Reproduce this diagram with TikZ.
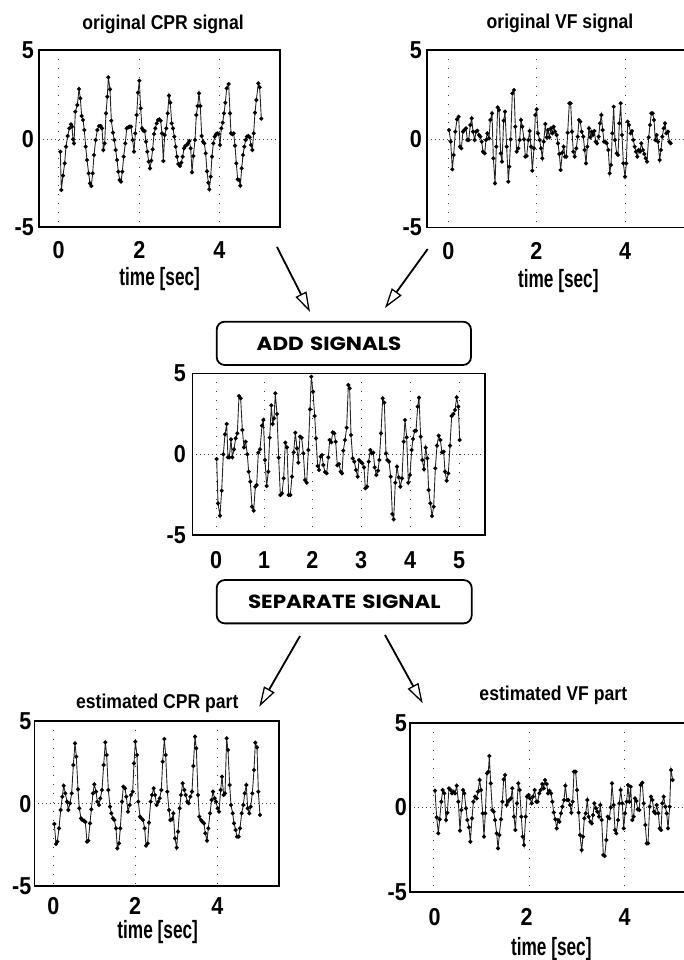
\documentclass[tikz,border=0pt]{standalone}
\usepackage{fontspec}
\setmainfont{Liberation Sans}[FakeStretch=0.88]
\newfontfamily\labelfont{Liberation Sans}[FakeStretch=0.69]
\newfontfamily\boxfont{Poppins}[FakeStretch=1.13]
\usetikzlibrary{arrows.meta}

\begin{document}
\begin{tikzpicture}[x=1pt, y=-1pt,
  frame/.style={line width=1.6pt},
  vgrid/.style={line width=0.7pt, black!75, dash pattern=on 0.8pt off 8.2pt},
  hgrid/.style={line width=0.7pt, black!75, dash pattern=on 0.8pt off 3.2pt},
  sig/.style={line width=0.9pt, black!85, mark=*, mark size=1.6pt, mark options={fill=black, draw=black}},
  ticklab/.style={font=\fontsize{24.5}{24.5}\selectfont\bfseries, inner sep=0pt},
  ylab/.style={ticklab, anchor=east},
  xlab/.style={ticklab, anchor=base},
  axtitle/.style={font=\fontsize{20}{20}\selectfont\bfseries, inner sep=0pt, anchor=base},
  timelab/.style={font=\labelfont\fontsize{25}{25}\selectfont\bfseries, inner sep=0pt, anchor=base},
  procbox/.style={draw, line width=1.8pt, rounded corners=8pt, inner xsep=0pt,
                  text width=#1, align=left, minimum height=43.3pt,
                  font=\boxfont\bfseries\fontsize{19}{19}\selectfont},
  flow/.style={line width=1.8pt, -{Triangle[open, fill=white, length=20pt, width=12pt, line width=1.3pt]}}
]
\useasboundingbox (0,0) rectangle (684,960);
\clip (0,0) rectangle (684,960);

% ---------------- original CPR signal (top left) ----------------
\foreach \gx in {58.7,139.3,219.3} \draw[vgrid] (\gx,50) -- (\gx,227);
\draw[hgrid] (39,139) -- (280,139);
\begin{scope}[shift={(0,0)}, x=1pt/3, y=-1pt/3]
\draw[sig] plot coordinates {
(181,455) (184,570) (189,527) (194,490) (198,440) (203,408) (208,385) (213,373) (216,380) (219,418)
(222,430) (226,335) (232,315) (237,267) (241,295) (245,348) (249,360) (253,390) (257,440) (261,480)
(266,520) (270,550) (274,558) (278,520) (282,465) (287,420) (292,390) (297,378) (302,378) (306,385)
(310,450) (314,430) (318,340) (322,290) (325,232) (330,268) (334,362) (339,398) (343,420) (347,450)
(351,480) (355,515) (359,540) (363,545) (367,515) (371,470) (376,430) (380,385) (385,382) (389,380)
(393,380) (398,420) (402,455) (406,400) (410,345) (414,278) (418,242) (422,325) (426,385) (430,392)
(434,393) (438,425) (442,455) (446,485) (450,505) (454,482) (458,448) (462,402) (466,385) (470,370)
(474,360) (478,358) (482,362) (486,400) (490,483) (494,405) (499,385) (503,340) (507,287) (511,308)
(515,370) (519,385) (523,410) (527,440) (531,470) (535,492) (540,498) (544,488) (548,470) (552,445)
(556,438) (560,435) (564,430) (568,423) (572,445) (576,517) (580,468) (585,420) (589,345) (593,318)
(597,280) (601,318) (605,408) (609,425) (613,430) (617,460) (621,514) (625,548) (628,568) (632,530)
(636,470) (640,430) (644,410) (648,403) (652,400) (656,402) (660,435) (664,385) (668,368) (672,340)
(676,308) (680,265) (686,252) (690,340) (693,400) (697,403) (701,400) (705,437) (709,490) (713,538)
(717,540) (721,557) (725,505) (729,465) (733,440) (737,420) (741,410) (745,408) (749,412) (753,435)
(757,450) (761,400) (765,338) (769,300) (775,250) (779,262) (784,356)};
\end{scope}
\draw[frame] (39,50) rectangle (280,227);
\node[ylab] (tl-y5) at (34,50) {5};
\node[ylab] (tl-y0) at (34,139) {0};
\node[ylab] (tl-ym5) at (34,227) {-5};
\node[xlab] (tl-x0) at (58.7,258.5) {0};
\node[xlab] (tl-x2) at (139.3,258.5) {2};
\node[xlab] (tl-x4) at (219.3,258.5) {4};
\node[axtitle] (tl-title) at (163,29.3) {original CPR signal};
\node[timelab] (tl-time) at (159.7,285.5) {time [sec]};

% ---------------- original VF signal (top right) ----------------
\foreach \gx in {448.3,536.3,625} \draw[vgrid] (\gx,50) -- (\gx,227.3);
\draw[hgrid] (426.7,139) -- (690,139);
\begin{scope}[shift={(380,0)}, x=1pt/3, y=-1pt/3]
\draw[sig] plot coordinates {
(207,390) (212,425) (217,508) (221,465) (226,395) (231,358) (236,350) (240,440) (244,445) (249,395)
(253,390) (258,385) (262,420) (266,420) (271,375) (275,355) (279,395) (284,420) (288,395) (292,392)
(297,405) (301,410) (305,425) (309,455) (314,460) (318,420) (322,400) (327,415) (331,360) (336,340)
(340,475) (345,550) (349,440) (353,322) (357,330) (362,460) (366,485) (371,362) (375,335) (380,440)
(385,545) (388,500) (392,418) (397,280) (402,270) (406,380) (410,455) (415,445) (419,420) (423,360)
(427,380) (432,418) (436,470) (440,468) (445,420) (449,393) (453,440) (457,512) (462,445) (466,345)
(470,328) (474,400) (479,420) (483,445) (487,475) (491,425) (496,372) (500,412) (504,390) (508,412)
(513,385) (517,400) (521,380) (525,395) (530,405) (534,430) (538,462) (542,510) (547,458) (551,440)
(555,470) (559,470) (563,398) (568,310) (572,310) (576,395) (580,455) (584,470) (589,445) (593,410)
(597,360) (601,365) (605,395) (610,410) (614,450) (618,490) (622,440) (627,385) (631,412) (635,395)
(639,405) (643,393) (647,425) (651,430) (656,410) (660,370) (664,345) (668,390) (672,425) (676,425)
(680,430) (685,450) (689,520) (693,495) (697,400) (701,320) (705,420) (710,460) (714,465) (718,370)
(722,310) (726,405) (730,490) (735,530) (739,490) (743,365) (747,375) (752,400) (756,393) (760,420)
(764,440) (768,455) (772,470) (776,450) (780,455) (784,430) (789,450) (793,462) (797,475) (801,485)
(806,412) (810,375) (814,340) (818,340) (822,360) (826,420) (830,405) (834,425) (839,480) (843,450)
(847,410) (851,385) (855,370) (859,400) (864,395) (868,425) (872,430)};
\end{scope}
\draw[frame] (690,50) -- (426.7,50) -- (426.7,227.3) -- (690,227.3);
\node[ylab] (tr-y5) at (422,50) {5};
\node[ylab] (tr-y0) at (422,139) {0};
\node[ylab] (tr-ym5) at (422,227.3) {-5};
\node[xlab] (tr-x0) at (448.3,259.5) {0};
\node[xlab] (tr-x2) at (536.3,259.5) {2};
\node[xlab] (tr-x4) at (625,259.5) {4};
\node[axtitle] (tr-title) at (560,28.8) {original VF signal};
\node[timelab] (tr-time) at (558.3,287) {time [sec]};

% ---------------- processing step 1 ----------------
\node[procbox=254.3pt] (add) at (343.85,343.35) {\hspace*{40pt}ADD SIGNALS};

% ---------------- mixed signal (middle) ----------------
\foreach \gx in {216,264,312.3,361,410,459} \draw[vgrid] (\gx,373.3) -- (\gx,535);
\draw[hgrid] (192.3,454) -- (485,454);
\begin{scope}[shift={(140,260)}, x=1pt/3, y=-1pt/3]
\draw[sig] plot coordinates {
(230,597) (234,730) (240,767) (245,692) (250,583) (255,523) (260,492) (264,592) (268,592) (273,538)
(277,592) (282,568) (287,535) (292,520) (297,408) (302,415) (307,510) (312,562) (317,545) (322,583)
(326,635) (331,665) (336,740) (341,752) (346,680) (350,675) (355,578) (360,568) (366,497) (370,480)
(375,600) (380,678) (385,635) (389,533) (394,436) (398,492) (402,475) (406,400) (411,462) (416,593)
(421,705) (426,700) (431,655) (436,548) (441,562) (446,705) (451,705) (456,650) (461,577) (466,518)
(471,565) (475,608) (480,530) (485,533) (490,580) (495,660) (500,668) (505,570) (510,448) (514,350)
(519,395) (524,468) (528,535) (533,618) (537,630) (542,590) (546,585) (550,615) (555,636) (560,640)
(565,592) (569,540) (574,547) (578,517) (583,520) (587,545) (592,616) (597,612) (602,635) (606,640)
(610,572) (615,540) (620,503) (625,375) (629,385) (633,525) (638,595) (643,605) (648,630) (653,650)
(657,600) (662,605) (667,610) (672,622) (676,685) (681,680) (686,605) (691,570) (695,580) (700,578)
(704,622) (709,645) (714,632) (718,600) (723,520) (728,415) (733,428) (738,580) (742,600) (747,605)
(752,650) (757,762) (761,778) (766,668) (771,620) (776,652) (781,680) (786,655) (791,545) (795,480)
(800,532) (805,668) (810,645) (815,570) (819,537) (824,513) (828,512) (833,440) (837,413) (842,530)
(847,600) (852,628) (857,563) (862,595) (866,690) (871,730) (876,768) (881,740) (886,625) (891,557)
(896,527) (901,540) (906,577) (911,575) (915,635) (920,662) (925,640) (930,557) (935,468) (940,462)
(945,450) (950,412) (955,440) (959,540)};
\end{scope}
\draw[frame] (192.3,373.3) rectangle (485,535);
\node[ylab] (m-y5) at (186,373.3) {5};
\node[ylab] (m-y0) at (186,454) {0};
\node[ylab] (m-ym5) at (186,535) {-5};
\foreach \gx/\lab in {216/0,264/1,312.3/2,361/3,410/4,459/5}
  \node[xlab] (m-x\lab) at (\gx,568.3) {\lab};

% ---------------- processing step 2 ----------------
\node[procbox=255pt] (sep) at (344.2,601.7) {\hspace*{31.3pt}SEPARATE SIGNAL};

% ---------------- estimated CPR part (bottom left) ----------------
\foreach \gx in {53.3,135,217.3} \draw[vgrid] (\gx,720.7) -- (\gx,885.7);
\draw[hgrid] (34.3,803.7) -- (279,803.7);
\begin{scope}[shift={(0,620)}, x=1pt/3, y=-1pt/3]
\draw[sig] plot coordinates {
(163,612) (168,672) (172,665) (177,625) (182,570) (187,530) (191,497) (196,520) (201,545) (205,570)
(210,550) (215,520) (220,435) (225,370) (229,410) (234,508) (238,565) (243,595) (247,600) (252,602)
(256,606) (261,665) (265,662) (270,610) (274,568) (279,520) (283,493) (288,515) (292,545) (297,555)
(301,535) (306,510) (311,435) (316,367) (320,405) (325,510) (330,560) (334,580) (339,595) (343,600)
(348,625) (352,685) (357,670) (361,625) (366,545) (370,500) (375,505) (379,530) (384,575) (389,555)
(393,525) (398,515) (402,430) (406,365) (411,405) (415,545) (420,590) (424,595) (429,600) (434,625)
(438,677) (443,670) (447,608) (452,545) (456,525) (461,505) (465,525) (470,555) (475,545) (479,535)
(484,510) (488,425) (493,357) (497,405) (502,515) (507,570) (511,600) (516,598) (520,580) (525,655)
(530,683) (534,635) (539,565) (543,525) (548,490) (553,510) (557,525) (562,545) (566,550) (571,530)
(576,515) (580,438) (585,350) (589,385) (594,525) (598,590) (603,600) (607,605) (612,610) (616,640)
(621,662) (625,625) (630,580) (635,540) (639,515) (644,535) (648,545) (653,565) (657,575) (662,510)
(666,470) (671,525) (675,520) (680,355) (684,390) (689,495) (693,555) (698,580) (702,610) (707,630)
(711,650) (716,650) (720,625) (725,580) (730,555) (734,520) (739,495) (743,565) (748,580) (752,560)
(757,520) (762,450) (766,368) (771,382) (775,515) (780,585)};
\end{scope}
\draw[frame] (34.3,720.7) rectangle (279,885.7);
\node[ylab] (bl-y5) at (31.5,720.7) {5};
\node[ylab] (bl-y0) at (31.5,803.7) {0};
\node[ylab] (bl-ym5) at (31.5,885.7) {-5};
\node[xlab] (bl-x0) at (53.3,914) {0};
\node[xlab] (bl-x2) at (135,914) {2};
\node[xlab] (bl-x4) at (217.3,914) {4};
\node[axtitle] (bl-title) at (157.3,708.3) {estimated CPR part};
\node[timelab] (bl-time) at (157.7,938) {time [sec]};

% ---------------- estimated VF part (bottom right) ----------------
\foreach \gx in {433.3,529,624} \draw[vgrid] (\gx,722.7) -- (\gx,891.7);
\draw[hgrid] (410,807.3) -- (696,807.3);
\begin{scope}[shift={(370,620)}, x=1pt/3, y=-1pt/3]
\draw[sig] plot coordinates {
(195,512) (200,592) (205,640) (209,598) (214,545) (218,510) (223,520) (228,600) (232,578) (237,505)
(242,510) (246,520) (251,515) (255,520) (260,497) (265,545) (270,632) (274,570) (279,510) (283,520)
(288,565) (292,600) (297,622) (301,665) (306,595) (310,545) (315,530) (320,535) (324,515) (329,480)
(333,510) (338,580) (342,650) (346,580) (351,460) (355,455) (358,408) (362,490) (367,570) (371,575)
(375,600) (380,640) (384,685) (388,645) (393,598) (397,545) (401,478) (405,465) (410,555) (414,545)
(418,540) (423,535) (427,505) (432,590) (436,630) (441,550) (445,490) (449,510) (454,590) (458,650)
(462,675) (467,590) (471,530) (476,525) (480,535) (485,550) (489,530) (494,510) (499,545) (503,545)
(508,520) (512,510) (517,492) (521,505) (525,480) (530,492) (534,520) (538,512) (543,520) (547,545)
(551,577) (556,598) (560,625) (564,600) (568,605) (573,580) (577,560) (582,540) (586,497) (591,540)
(595,540) (600,555) (604,578) (608,545) (612,455) (617,455) (621,510) (626,578) (630,645) (635,690)
(639,650) (643,595) (647,580) (652,540) (656,590) (661,605) (665,610) (669,585) (673,550) (678,565)
(682,575) (687,590) (691,555) (695,600) (700,705) (704,708) (709,660) (713,590) (718,595) (722,562)
(726,490) (731,555) (735,630) (739,640) (744,600) (748,550) (752,510) (757,550) (761,625) (765,580)
(770,545) (774,495) (778,545) (782,500) (787,600) (791,590) (795,535) (799,543) (803,568) (808,570)
(812,495) (817,488) (821,550) (826,615) (830,670) (834,670) (839,560) (843,530) (847,540) (852,575)
(856,580) (860,555) (865,580) (869,625) (873,630) (877,550) (881,530) (886,560) (890,580) (894,625)
(899,560) (903,450) (908,480)};
\end{scope}
\draw[frame] (696,722.7) -- (410,722.7) -- (410,891.7) -- (696,891.7);
\node[ylab] (br-y5) at (407,722.7) {5};
\node[ylab] (br-y0) at (407,807.3) {0};
\node[ylab] (br-ym5) at (407,891.7) {-5};
\node[xlab] (br-x0) at (434.7,925) {0};
\node[xlab] (br-x2) at (526.7,925) {2};
\node[xlab] (br-x4) at (624.7,925) {4};
\node[axtitle] (br-title) at (553.3,700) {estimated VF part};
\node[timelab] (br-time) at (551.3,955) {time [sec]};

% ---------------- flow arrows ----------------
\coordinate (cpr-out) at (277,247);
\coordinate (add-in1) at (310,312);
\coordinate (vf-out) at (427.7,249);
\coordinate (add-in2) at (385,308);
\coordinate (sep-out1) at (300,636);
\coordinate (cpr-in) at (259.3,706.7);
\coordinate (sep-out2) at (385,635);
\coordinate (vf-in) at (422.7,703.3);
\draw[flow] (cpr-out) -- (add-in1);
\draw[flow] (vf-out) -- (add-in2);
\draw[flow] (sep-out1) -- (cpr-in);
\draw[flow] (sep-out2) -- (vf-in);
\end{tikzpicture}
\end{document}
